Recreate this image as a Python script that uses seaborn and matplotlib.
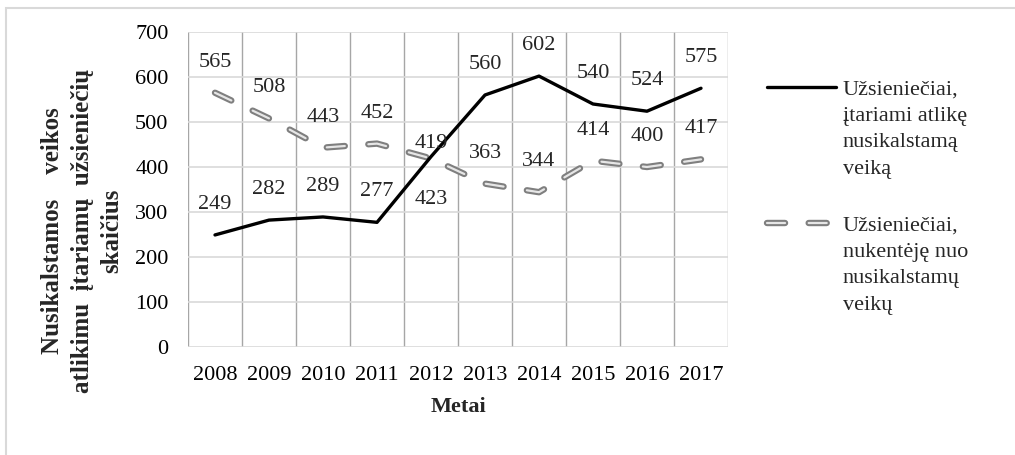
import numpy as np
import pandas as pd
import matplotlib
matplotlib.use('Agg')
import matplotlib.pyplot as plt
import seaborn as sns
from matplotlib.lines import Line2D
from matplotlib.patches import Rectangle

# Chart data
years = ['2008', '2009', '2010', '2011', '2012', '2013', '2014', '2015', '2016', '2017']
suspects = [249, 282, 289, 277, 423, 560, 602, 540, 524, 575]
victims = [565, 508, 443, 452, 419, 363, 344, 414, 400, 417]
y_ticks = [0, 100, 200, 300, 400, 500, 600, 700]

suspects_label = ['Užsieniečiai,', 'įtariami atlikę', 'nusikalstamą', 'veiką']
victims_label = ['Užsieniečiai,', 'nukentėję nuo', 'nusikalstamų', 'veikų']

df = pd.DataFrame({'Metai': years, 'suspects': suspects, 'victims': victims})

sns.set_theme(style='white')
plt.rcParams['font.family'] = ['Liberation Serif', 'DejaVu Serif']
plt.rcParams['lines.scale_dashes'] = False

fs = 16
fig = plt.figure(figsize=(10.15, 4.55), dpi=100)
ax = fig.add_axes([188 / 1015, 1 - 347 / 455, 540 / 1015, 315 / 455])

# dashed "double" line: gray outline with light core
sns.lineplot(data=df, x='Metai', y='victims', ax=ax, color='#7f7f7f', lw=4.6,
             linestyle=(0, (13, 17)), dash_capstyle='round', sort=False)
sns.lineplot(data=df, x='Metai', y='victims', ax=ax, color='#e6e6e6', lw=1.6,
             linestyle=(0, (13, 17)), dash_capstyle='round', sort=False)
sns.lineplot(data=df, x='Metai', y='suspects', ax=ax, color='black', lw=2.4, sort=False)

# data labels
for i, v in enumerate(suspects):
    off = -31 if years[i] == '2012' else 22
    ax.annotate(str(v), (i, v), xytext=(0, off), textcoords='offset points',
                ha='center', va='center', fontsize=fs)
for i, v in enumerate(victims):
    off = 11 if years[i] == '2012' else 22
    ax.annotate(str(v), (i, v), xytext=(0, off), textcoords='offset points',
                ha='center', va='center', fontsize=fs)

ax.set_xlim(-0.5, len(years) - 0.5)
ax.set_ylim(0, 700)
ax.set_yticks(y_ticks)
ax.set_xticks(np.arange(-0.5, len(years)), minor=True)
ax.grid(True, axis='y', which='major', color='#d9d9d9', lw=1.2)
ax.grid(True, axis='x', which='minor', color='#a6a6a6', lw=1.0)
ax.grid(False, axis='x', which='major')
for s in ax.spines.values():
    s.set_visible(False)
ax.tick_params(axis='both', which='both', length=0, labelsize=fs, colors='black')
ax.tick_params(axis='y', pad=14)
ax.tick_params(axis='x', pad=14)

ax.set_xlabel('Metai', fontsize=fs, fontweight='bold', labelpad=8)
ax.set_ylabel('Nusikalstamos    veikos\natlikimu  įtariamų  užsieniečių\nskaičius',
              fontsize=18, fontweight='bold', linespacing=1.35, va='center')
ax.yaxis.set_label_coords(-0.196, 0.37)

# legends: handle aligned with the first line of each label
lines = ax.get_lines()
blank = Line2D([], [], color='none')
leg_kw = dict(loc='upper left', bbox_transform=fig.transFigure, frameon=False, fontsize=fs,
              handlelength=3.1, handletextpad=0.3, borderpad=0, borderaxespad=0,
              labelspacing=0.26)
fig.legend([lines[2], blank, blank, blank], suspects_label,
           bbox_to_anchor=(767 / 1015, 1 - 79 / 455), **leg_kw)
fig.legend([(lines[0], lines[1]), blank, blank, blank], victims_label,
           bbox_to_anchor=(767 / 1015, 1 - 215 / 455), **leg_kw)

# outer chart border
fig.patches.append(Rectangle((6 / 1015, -0.1), 1.2, 1.1 - 8 / 455, transform=fig.transFigure,
                             fill=False, edgecolor='#d9d9d9', lw=1.5))

fig.savefig('out.png', dpi=100)
